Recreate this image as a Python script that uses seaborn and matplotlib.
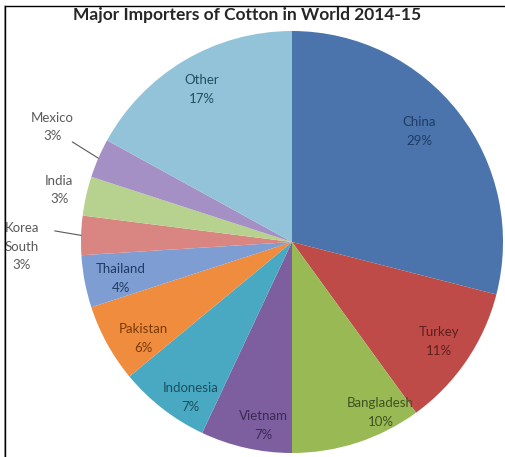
import numpy as np
import matplotlib
matplotlib.use("Agg")
import matplotlib.pyplot as plt
import seaborn as sns
from matplotlib.lines import Line2D

sns.set_theme(style="white")
plt.rcParams['font.family'] = ['Lato', 'DejaVu Sans']

# ---- data ----
countries = ["China", "Turkey", "Bangladesh", "Vietnam", "Indonesia", "Pakistan",
             "Thailand", "Korea\nSouth", "India", "Mexico", "Other"]
shares = [29, 11, 10, 7, 7, 6, 4, 3, 3, 3, 17]
title = "Major Importers of Cotton in World 2014-15"

# ---- style ----
colors = ["#4A74AB", "#BE4B48", "#98B954", "#7D5FA0", "#4AA9C2", "#F08C3E",
          "#7E9DD3", "#D98683", "#B7D28E", "#A490C4", "#93C3D8"]
text_colors = ["#1F3B63", "#5E1F1D", "#3F5220", "#3B2A55", "#1C4F5E", "#7A3A06",
               "#1F3B63", "#595959", "#595959", "#595959", "#1F4E5F"]
# label placement: (radius factor, angle override in degrees or None)
layout = {
    "China": (0.80, 41),
    "Turkey": (0.84, None),
    "Bangladesh": (0.91, -62.5),
    "Vietnam": (0.88, -99),
    "Indonesia": (0.88, -123),
    "Pakistan": (0.84, -147),
    "Thailand": (0.83, -168),
    "Korea\nSouth": (1.28, 181),
    "India": (1.13, 167.4),
    "Mexico": (1.26, 154.4),
    "Other": (0.84, None),
}
outside = {"Korea\nSouth", "Mexico"}

W, H = 506, 457
fig = plt.figure(figsize=(W / 100, H / 100), dpi=100)
cx, cy, R = 292, 242, 211
ax = fig.add_axes([(cx - R) / W, (H - cy - R) / H, 2 * R / W, 2 * R / H])

wedges, _ = ax.pie(shares, colors=colors, startangle=90, counterclock=False,
                   radius=1, wedgeprops=dict(edgecolor="none", linewidth=0))
ax.set_xlim(-1, 1)
ax.set_ylim(-1, 1)
ax.set_aspect("auto")
ax.axis("off")

for w, name, val, tc in zip(wedges, countries, shares, text_colors):
    mid = (w.theta1 + w.theta2) / 2.0
    r, ang = layout[name]
    if ang is None:
        ang = mid
    a = np.deg2rad(ang)
    x, y = r * np.cos(a), r * np.sin(a)
    ax.text(x, y, f"{name}\n{val}%", ha="center", va="center", fontsize=9.5,
            color=tc, linespacing=1.65, clip_on=False)
    if name in outside:
        m = np.deg2rad(mid)
        ex, ey = np.cos(m), np.sin(m)
        if name == "Mexico":
            sx, sy = x + 0.095, y - 0.07
        else:
            sx, sy = x + 0.155, y + 0.075
        ax.plot([sx, ex], [sy, ey], color="#595959", lw=0.8, clip_on=False)

fig.text(247 / W, 1 - 15 / H, title, ha="center", va="center", fontsize=12.5,
         fontweight="bold", color="#262626")

# frame lines (left and top)
fig.add_artist(Line2D([4.5 / W, 4.5 / W], [0, 1 - 5.5 / H], color="#9a9a9a", lw=1.2,
                      transform=fig.transFigure))
fig.add_artist(Line2D([5.5 / W, 5.5 / W], [0, 1 - 5.5 / H], color="black", lw=1.0,
                      transform=fig.transFigure))
fig.add_artist(Line2D([5.5 / W, 1], [1 - 5.5 / H, 1 - 5.5 / H], color="black", lw=1.0,
                      transform=fig.transFigure))

fig.savefig("out.png", dpi=100)
